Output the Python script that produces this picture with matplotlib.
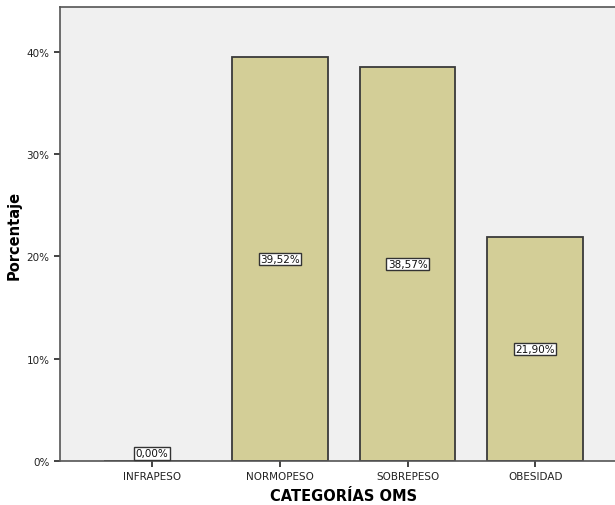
import matplotlib
matplotlib.use("Agg")
import matplotlib.pyplot as plt
from matplotlib.ticker import FuncFormatter

categories = ["INFRAPESO", "NORMOPESO", "SOBREPESO", "OBESIDAD"]
percentages = [0.00, 39.52, 38.57, 21.90]
yticks = [0, 10, 20, 30, 40]

plt.rcParams['font.family'] = ['DejaVu Sans']

fig = plt.figure(figsize=(6.15, 5.06), dpi=100)
ax = fig.add_axes([60 / 615, 44 / 506, 1.02 - 60 / 615, (462 - 8) / 506])
ax.set_facecolor("#f0f0f0")

x = list(range(len(categories)))
bars = ax.bar(x, percentages, width=0.75, color="#d3ce97",
              edgecolor="#3a3a3a", linewidth=1.3, zorder=2)

ax.set_xlim(-0.72, 3.72)
ax.set_ylim(0, 44.4)
ax.set_yticks(yticks)
ax.yaxis.set_major_formatter(FuncFormatter(lambda v, p: f"{v:.0f}%"))
ax.set_xticks(x)
ax.set_xticklabels(categories)
ax.tick_params(axis="both", labelsize=7.5, colors="#222222", length=4, width=1.2)
ax.tick_params(axis="x", pad=3)

for s in ax.spines.values():
    s.set_color("#555555")
    s.set_linewidth(1.2)
ax.spines["right"].set_visible(False)

for xi, v in zip(x, percentages):
    ypos = v / 2 if v > 0 else 0.75
    ax.text(xi, ypos, f"{v:.2f}%".replace(".", ","), ha="center", va="center",
            fontsize=7.5, color="#111111", zorder=3,
            bbox=dict(boxstyle="square,pad=0.12", facecolor="white",
                      edgecolor="#333333", linewidth=1.0))

ax.set_ylabel("Porcentaje", fontsize=10.5, fontweight="bold")
ax.yaxis.set_label_coords(-0.068, 0.5)
ax.set_xlabel("CATEGORÍAS OMS", fontsize=10.5, fontweight="bold", labelpad=5)

fig.savefig("out.png", dpi=100)
